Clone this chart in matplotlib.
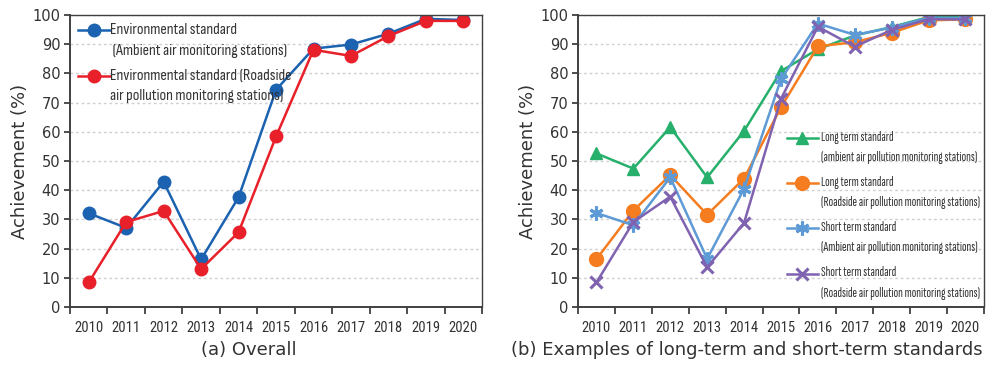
import numpy as np
import matplotlib.pyplot as plt
from matplotlib.legend_handler import HandlerLine2D

# データ
years = ["2010", "2011", "2012", "2013", "2014", "2015", "2016", "2017", "2018", "2019", "2020"]

# (a) Overall
env_ambient = [32.1, 27.1, 42.9, 16.3, 37.6, 74.4, 88.5, 89.9, 93.6, 98.7, 98.3]
env_roadside = [8.4, 29.1, 32.9, 13.0, 25.6, 58.4, 88.1, 86.0, 92.8, 98.0, 98.0]

# (b) long-term / short-term
long_ambient = [52.6, 47.4, 61.6, 44.4, 60.3, 80.8, 88.3, 93.0, 95.9, 99.3, 99.3]
long_roadside = [16.4, 33.0, 45.2, 31.6, 44.0, 68.4, 89.3, 90.7, 93.9, 98.2, 98.5]
short_ambient = [32.2, 28.0, 44.4, 16.5, 40.5, 78.0, 97.1, 93.2, 95.7, 99.1, 99.0]
short_roadside = [8.4, 29.1, 37.8, 13.6, 28.8, 71.3, 96.0, 89.2, 94.9, 98.6, 98.5]

labels_a = ["Environmental standard\n (Ambient air monitoring stations)",
            "Environmental standard (Roadside\nair pollution monitoring stations)"]
labels_b = ["Long term standard\n(ambient air pollution monitoring stations)",
            "Long term standard\n(Roadside air pollution monitoring stations)",
            "Short term standard\n(Ambient air pollution monitoring stations)",
            "Short term standard\n(Roadside air pollution monitoring stations)"]

LEGFONT_A = ["Sofia Sans Condensed", "DejaVu Sans"]
LEGFONT_B = ["Sofia Sans Extra Condensed", "DejaVu Sans"]
TICKFONT = ["Roboto Condensed", "DejaVu Sans"]
SPINE = "#404040"
TXT = "#333333"


# 凡例マーカーを1行目に揃える
class TopHandler(HandlerLine2D):
    def __init__(self, shift, **kw):
        super().__init__(**kw)
        self.shift = shift

    def create_artists(self, legend, orig_handle, xdescent, ydescent,
                       width, height, fontsize, trans):
        return super().create_artists(legend, orig_handle, xdescent,
                                      ydescent - self.shift * fontsize, width, height,
                                      fontsize, trans)


def setup_axes(ax):
    x = np.arange(len(years))
    ax.set_xlim(-0.5, len(years) - 0.5)
    ax.set_ylim(0, 100)
    ax.set_yticks(range(0, 101, 10))
    ax.set_xticks(np.arange(-0.5, len(years), 1.0))
    ax.set_xticklabels([])
    ax.set_xticks(x, minor=True)
    ax.set_xticklabels(years, minor=True, fontsize=10.5, family=TICKFONT, color=TXT)
    ax.tick_params(axis="x", which="major", length=5, width=1.3, color=SPINE, direction="out")
    ax.tick_params(axis="x", which="minor", length=0, pad=10)
    ax.tick_params(axis="y", length=4, width=1.3, color=SPINE, labelsize=10.5,
                   labelcolor=TXT, pad=3)
    ax.grid(axis="y", color="#d0d0d0", linestyle=(0, (2, 2)), linewidth=1)
    ax.set_axisbelow(True)
    for s in ax.spines.values():
        s.set_color(SPINE)
        s.set_linewidth(1.4)
    ax.spines["top"].set_linewidth(1.0)
    ax.spines["right"].set_linewidth(1.0)
    ax.set_ylabel("Achievement (%)", fontsize=13, color=TXT)
    return x


fig = plt.figure(figsize=(9.96, 3.67), dpi=100)
ax1 = fig.add_axes([0.0703, 0.1635, 0.4137, 0.7955])
ax2 = fig.add_axes([0.5803, 0.1635, 0.4076, 0.7955])

# (a)
x = setup_axes(ax1)
l1, = ax1.plot(x, env_ambient, color="#1b62b0", marker="o", markersize=9, lw=1.8)
l2, = ax1.plot(x, env_roadside, color="#e8202a", marker="o", markersize=9, lw=1.8)
leg = ax1.legend([l1, l2], labels_a, loc="upper left", bbox_to_anchor=(0.0, 1.0),
                 frameon=False, prop={"family": LEGFONT_A, "size": 11.5},
                 handlelength=2.0, handletextpad=0.0, labelspacing=0.68,
                 borderaxespad=0.1,
                 handler_map={l1: TopHandler(1.25), l2: TopHandler(1.25)})
for t in leg.get_texts():
    t.set_color(TXT)
    t.set_linespacing(1.55)

# (b)
x = setup_axes(ax2)
g, = ax2.plot(x, long_ambient, color="#27b06c", marker="^", markersize=9, lw=1.8)
o, = ax2.plot(x, long_roadside, color="#f57c1f", marker="o", markersize=10, lw=1.8)
b, = ax2.plot(x, short_ambient, color="#5d9ad6", marker=(6, 2, 0), markersize=10,
              mew=2.2, lw=1.8)
p, = ax2.plot(x, short_roadside, color="#8063b0", marker="x", markersize=8,
              mew=2.2, lw=1.8)
leg2 = ax2.legend([g, o, b, p], labels_b, loc="upper left", bbox_to_anchor=(0.501, 0.622),
                  frameon=False, prop={"family": LEGFONT_B, "size": 9.8},
                  handlelength=2.3, handletextpad=0.2, labelspacing=0.85,
                  borderaxespad=0.0,
                  handler_map={h: TopHandler(1.4) for h in [g, o, b, p]})
for t in leg2.get_texts():
    t.set_color(TXT)
    t.set_linespacing(1.75)

fig.text(0.25, 0.046, "(a) Overall", ha="center", va="center", fontsize=13, color=TXT)
fig.text(0.75, 0.046, "(b) Examples of long-term and short-term standards",
         ha="center", va="center", fontsize=13, color=TXT)

ax1.yaxis.set_label_coords(-0.1, 0.5)
ax2.yaxis.set_label_coords(-0.1, 0.5)

plt.savefig("out.png", dpi=100)
plt.close()
